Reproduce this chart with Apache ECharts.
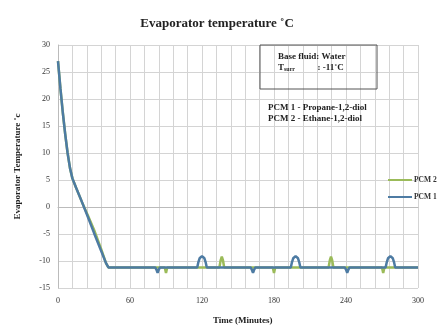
<!DOCTYPE html>
<html><head><meta charset="utf-8">
<script src="https://cdn.jsdelivr.net/npm/echarts@6/dist/echarts.min.js"></script>
<style>html,body{margin:0;padding:0;background:#fff}#c{width:440px;height:327px}</style>
</head><body><div id="c"></div>
<script>
// Time (minutes) / temperature (°C) pairs
const pcm1Time = [0,2,4,6,8,10,12,15,20,25,30,35,40,42,
  81,82,83,84,85, 116,117,118,120,122,123,124,
  160.5,161.5,162.5,163.5,164.5, 194,195,196,198,200,201,202,
  239,240,241,242,243, 273,274,275,277,279,280,281, 300];
const pcm1Temp = [27,22,17.5,13.5,10,7.2,5.3,3.6,0.9,-1.9,-4.8,-7.6,-10.4,-11.2,
  -11.2,-11.6,-12.2,-11.6,-11.2, -11.2,-10.2,-9.5,-9.1,-9.5,-10.2,-11.2,
  -11.2,-11.6,-12.2,-11.6,-11.2, -11.2,-10.2,-9.5,-9.1,-9.5,-10.2,-11.2,
  -11.2,-11.6,-12.2,-11.6,-11.2, -11.2,-10.2,-9.5,-9.1,-9.5,-10.2,-11.2, -11.2];
const pcm2Time = [0,2,4,6,8,10,12,15,20,25,30,33,36,40,42,
  89,90,91, 134.5,135.5,136.5,137.5,138.5,
  179,180,181, 225.5,226.5,227.5,228.5,229.5,
  270,271,272, 300];
const pcm2Temp = [27,22,17.5,13.5,10,7.2,5.3,3.6,0.9,-1.6,-4.2,-6.0,-7.8,-10.4,-11.2,
  -11.2,-12.2,-11.2, -11.2,-9.9,-9.2,-9.9,-11.2,
  -11.2,-12.2,-11.2, -11.2,-9.9,-9.2,-9.9,-11.2,
  -11.2,-12.2,-11.2, -11.2];
const xTicks = [0,60,120,180,240,300];
const yTicks = [-15,-10,-5,0,5,10,15,20,25,30];

const zip = (a,b) => a.map((t,i)=>[t,b[i]]);
const serif = 'Liberation Serif';
const chart = echarts.init(document.getElementById('c'));
chart.setOption({
  animation:false,
  backgroundColor:'#fff',
  title:{text:'Evaporator temperature ˚C', left:212, top:12, textAlign:'center',
    textStyle:{fontFamily:serif, fontSize:13, fontWeight:'bold', color:'#222'}},
  grid:{left:58, right:22, top:45, bottom:39},
  legend:{data:['PCM 2','PCM 1'], orient:'vertical', left:388, top:176, itemGap:9, padding:0,
    icon:'rect', itemWidth:24, itemHeight:2,
    textStyle:{fontFamily:serif, fontSize:7.5, fontWeight:'bold', color:'#333', padding:[0,0,0,-3]}},
  xAxis:{type:'value', min:xTicks[0], max:xTicks[xTicks.length-1], interval:60,
    axisLine:{show:true, lineStyle:{color:'#bbb'}}, axisTick:{show:false},
    axisLabel:{fontFamily:serif, fontSize:8, color:'#333', margin:9},
    splitLine:{show:true, lineStyle:{color:'#d4d4d4'}},
    minorTick:{show:false, splitNumber:5},
    minorSplitLine:{show:true, lineStyle:{color:'#d4d4d4'}}},
  yAxis:{type:'value', min:yTicks[0], max:yTicks[yTicks.length-1], interval:5,
    name:'Evaporator Temperature ˚c', nameLocation:'middle', nameRotate:90, nameGap:36,
    nameTextStyle:{fontFamily:serif, fontSize:9, fontWeight:'bold', color:'#222'},
    axisLine:{show:true, lineStyle:{color:'#bbb'}}, axisTick:{show:false},
    axisLabel:{fontFamily:serif, fontSize:8, color:'#333', margin:8},
    splitLine:{show:true, lineStyle:{color:'#d4d4d4'}}},
  series:[
    {name:'PCM 2', type:'line', data:zip(pcm2Time,pcm2Temp), showSymbol:false, symbol:'none',
      lineStyle:{color:'#9bbb59', width:2.5}, itemStyle:{color:'#9bbb59'}},
    {name:'PCM 1', type:'line', data:zip(pcm1Time,pcm1Temp), showSymbol:false, symbol:'none',
      lineStyle:{color:'#4d7ba3', width:2.5}, itemStyle:{color:'#4d7ba3'}}
  ],
  graphic:[
    {type:'rect', z:100, shape:{x:260, y:45, width:117, height:44}, style:{fill:'none', stroke:'#555', lineWidth:1}},
    {type:'text', z:100, left:278, top:52, style:{text:'Base fluid: Water', font:'bold 9px "Liberation Serif"', fill:'#222'}},
    {type:'text', z:100, left:278, top:63, style:{text:'{t|T}{s|surr}          : -11˚C', fill:'#222',
      rich:{t:{fontFamily:serif, fontSize:9, fontWeight:'bold'}, s:{fontFamily:serif, fontSize:6, fontWeight:'bold', padding:[3,0,0,0]}},
      font:'bold 9px "Liberation Serif"'}},
    {type:'text', z:100, left:268, top:103, style:{text:'PCM 1 - Propane-1,2-diol', font:'bold 9px "Liberation Serif"', fill:'#222'}},
    {type:'text', z:100, left:268, top:114, style:{text:'PCM 2 - Ethane-1,2-diol', font:'bold 9px "Liberation Serif"', fill:'#222'}},
    {type:'text', z:100, left:213, top:316, style:{text:'Time (Minutes)', font:'bold 9px "Liberation Serif"', fill:'#222', textAlign:'center'}}
  ]
});
</script></body></html>
